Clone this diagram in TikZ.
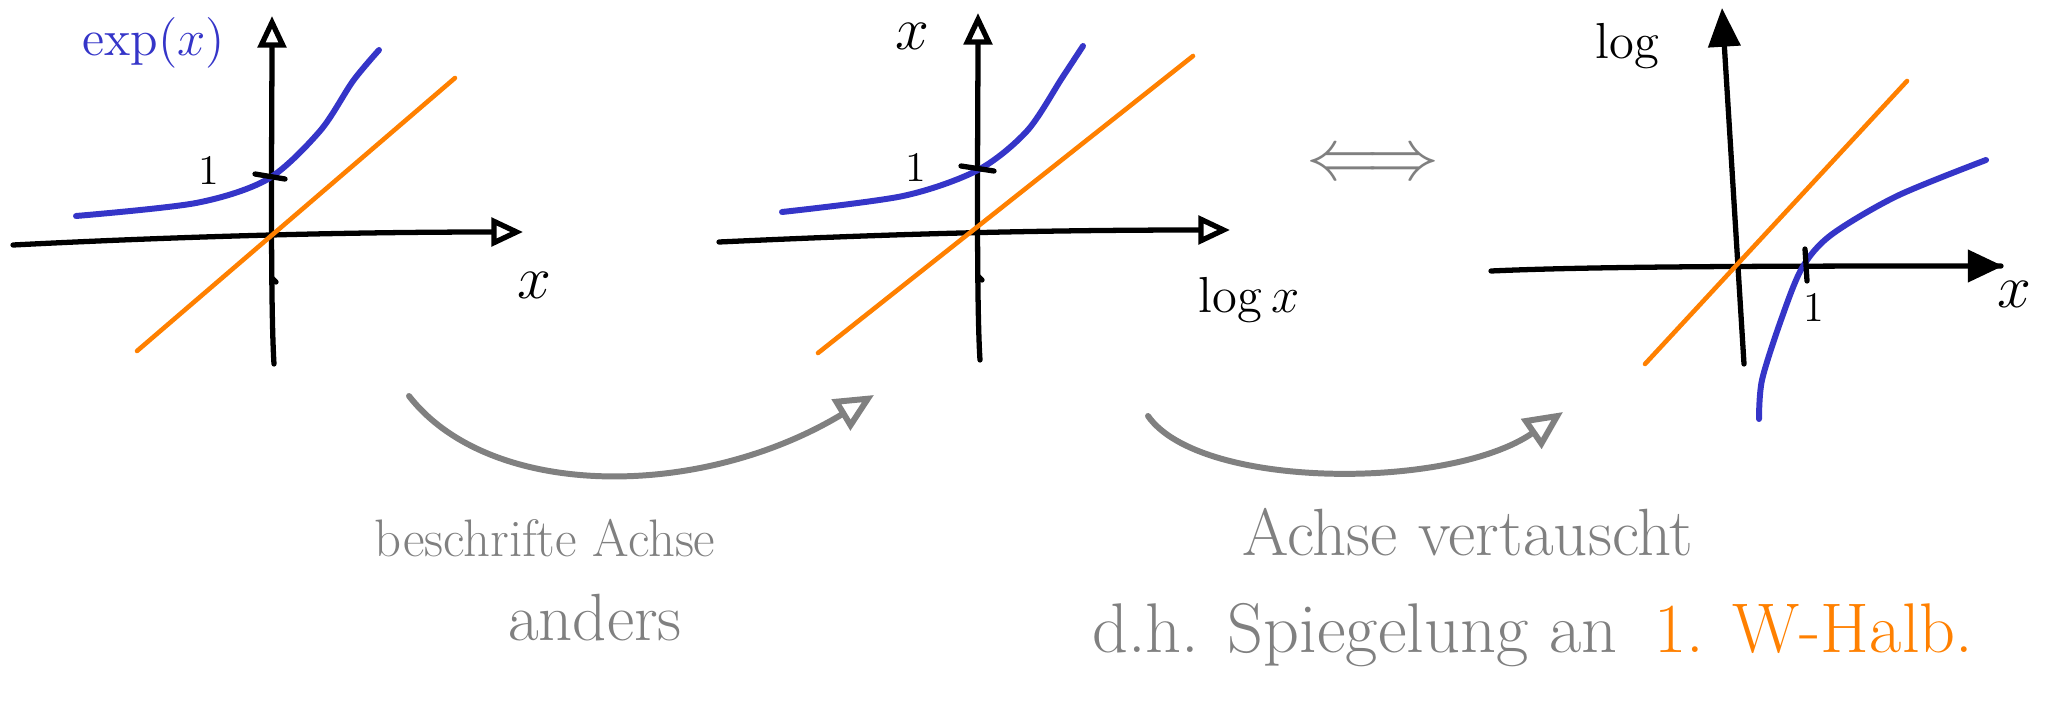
\documentclass[tikz,border=0pt]{standalone}
\usepackage{tikz}
\usepackage{amsmath}
\usetikzlibrary{arrows.meta}
\definecolor{penblue}{HTML}{3535C8}
\definecolor{penorange}{HTML}{FF8000}
\definecolor{pengray}{HTML}{808080}

\begin{document}
\begin{tikzpicture}[x=0.01cm,y=-0.01cm,
  axis/.style={line width=1.5pt,line cap=round,-{Triangle[open,length=9pt,width=8pt,line width=1.5pt]}},
  tickmark/.style={line width=1.5pt,line cap=round},
  diag/.style={penorange,line width=1.3pt,line cap=round},
  graph/.style={penblue,line width=1.7pt,line cap=round},
  turn/.style={pengray,line width=1.7pt,line cap=round,-{Triangle[open,length=11pt,width=10pt,line width=1.7pt]}},
  lab/.style={font=\fontsize{16}{19}\selectfont},
  small/.style={font=\fontsize{12}{14}\selectfont},
  note/.style={pengray,font=\fontsize{15}{18}\selectfont,anchor=base},
  bignote/.style={pengray,font=\fontsize{19}{23}\selectfont,anchor=base}]
  \useasboundingbox (0,0) rectangle (2051,703);

  \draw[axis] (13,245) .. controls (150,238) and (320,232) .. (523,232);
  \draw[axis] (274,364) .. controls (270,300) and (272,100) .. (272,16);
  \draw[diag] (137,351) -- (455,78);
  \draw[graph] plot[smooth] coordinates {(76,216) (196,203) (268,179) (320,131) (353,81) (379,50)};
  \draw[tickmark] (255,174) -- (285,179);
  \draw[tickmark] (272,278) -- (276,282);
  \node[small] (oneA) at (209,170) {1};
  \node[penblue,font=\fontsize{14}{16}\selectfont] (labexp) at (154,43) {$\exp(x)$};
  \node[lab] (xA) at (534,285) {$x$};

  \draw[axis] (719,242) .. controls (850,236) and (1000,230) .. (1230,230);
  \draw[axis] (980,360) .. controls (976,300) and (978,100) .. (978,13);
  \draw[diag] (818,353) -- (1193,56);
  \draw[graph] plot[smooth] coordinates {(782,212) (903,196) (978,170) (1027,131) (1062,78) (1083,46)};
  \draw[tickmark] (961,166) -- (994,171);
  \draw[tickmark] (978,276) -- (982,280);
  \node[small] (oneB) at (916,167) {1};
  \node[lab] (xB) at (912,36) {$x$};
  \node[font=\fontsize{14}{17}\selectfont] (logx) at (1249,300) {$\log x$};

  \node[pengray,font=\fontsize{22}{26}\selectfont] (equiv) at (1373,166) {$\Longleftrightarrow$};

  \draw[line width=1.5pt,line cap=round] (1491,271) .. controls (1600,266) and (1800,266) .. (2001,266);
  \draw[line width=1.5pt,-{Triangle[length=10pt,width=9pt]}] (1980,266) -- (2003,266);
  \draw[line width=1.5pt,line cap=round,-{Triangle[length=11pt,width=9pt]}] (1744,364) -- (1722,8);
  \draw[diag] (1645,364) -- (1907,81);
  \draw[graph] plot[smooth] coordinates {(1759,419) (1762,380) (1781,320) (1802,268) (1831,235) (1897,196) (1986,160)};
  \draw[tickmark] (1805,249) -- (1807,281);
  \node[small] (oneC) at (1814,307) {1};
  \node[lab] (xC) at (2014,294) {$x$};
  \node[font=\fontsize{14}{17}\selectfont] (labloglog) at (1628,46) {$\log$};

  \coordinate (fromA) at (409,396);
  \coordinate (toA) at (874,395);
  \draw[turn] (fromA) .. controls (490,500) and (700,500) .. (toA);
  \coordinate (fromB) at (1148,416);
  \coordinate (toB) at (1563,412);
  \draw[turn] (fromB) .. controls (1200,490) and (1450,490) .. (toB);

  \node[note] (relabel) at (545,556) {beschrifte Achse};
  \node[note,font=\fontsize{19}{23}\selectfont] (relabelb) at (595,640) {anders};
  \node[bignote] (swap) at (1468,555) {Achse vertauscht};
  \node[bignote,font=\fontsize{20}{24}\selectfont,anchor=base west] (mirror) at (1080,652) {d.h. Spiegelung an};
  \node[penorange,font=\fontsize{20}{24}\selectfont,anchor=base west] (bisect) at (mirror.base east) {\,1. W-Halb.};
\end{tikzpicture}
\end{document}
